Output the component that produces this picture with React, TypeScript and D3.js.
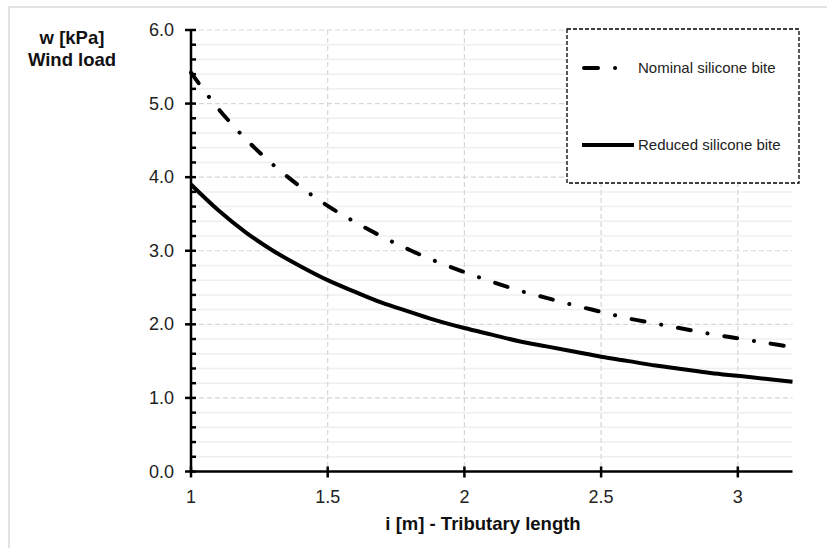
import React from 'react'
import * as d3 from 'd3'

// tributary length i [m]
const lengths = [1.0, 1.1, 1.2, 1.3, 1.4, 1.5, 1.6, 1.7, 1.8, 1.9, 2.0, 2.1, 2.2, 2.3, 2.4, 2.5, 2.6, 2.7, 2.8, 2.9, 3.0, 3.1, 3.2]
// wind load w [kPa]
const nominal = [5.42, 4.93, 4.52, 4.17, 3.87, 3.61, 3.39, 3.19, 3.01, 2.85, 2.71, 2.58, 2.46, 2.36, 2.26, 2.17, 2.08, 2.01, 1.94, 1.87, 1.81, 1.75, 1.69]
const reduced = [3.90, 3.55, 3.25, 3.00, 2.79, 2.60, 2.44, 2.29, 2.17, 2.05, 1.95, 1.86, 1.77, 1.70, 1.63, 1.56, 1.50, 1.44, 1.39, 1.34, 1.30, 1.26, 1.22]

const xTicks = [1, 1.5, 2, 2.5, 3]
const xTickLabels = ['1', '1.5', '2', '2.5', '3']
const yTicks = [0, 1, 2, 3, 4, 5, 6]
const seriesNames = ['Nominal silicone bite', 'Reduced silicone bite']

const W = 827
const H = 548
const left = 191
const right = 792.5
const top = 30
const bottom = 471.5
const font = 'Arial, "Liberation Sans", sans-serif'

export default function App() {
  const x = d3.scaleLinear().domain([1, 3.2]).range([left, right])
  const y = d3.scaleLinear().domain([0, 6]).range([bottom, top])

  const line = d3.line<number>()
    .x((d, i) => x(lengths[i]))
    .y(d => y(d))
    .curve(d3.curveCatmullRom)

  const minorY = d3.range(0, 6.0001, 0.2).filter(v => Math.abs(v - Math.round(v)) > 0.01)

  return (
    <svg width={W} height={H} style={{ position: 'absolute', left: 0, top: 0 }}>
      <rect x={0} y={0} width={W} height={H} fill="#fff" />
      <rect x={9} y={7} width={W + 20} height={H + 20} fill="none" stroke="#d9d9d9" strokeWidth={1.5} />

      {/* minor grid */}
      {minorY.map(v => (
        <line key={'m' + v} x1={left} x2={right} y1={y(v)} y2={y(v)} stroke="#efefef" strokeWidth={1.5} />
      ))}
      {/* major grid */}
      {yTicks.filter(v => v > 0).map(v => (
        <line key={'gy' + v} x1={left} x2={right} y1={y(v)} y2={y(v)} stroke="#d6d6d6" strokeWidth={1.2} strokeDasharray="5,3" />
      ))}
      {xTicks.filter(v => v > 1).map(v => (
        <line key={'gx' + v} x1={x(v)} x2={x(v)} y1={top} y2={bottom} stroke="#d6d6d6" strokeWidth={1.2} strokeDasharray="5,3" />
      ))}

      {/* series */}
      <path d={line(nominal) || ''} fill="none" stroke="#000" strokeWidth={4} strokeLinecap="round" strokeDasharray="13,17,0.1,17" />
      <path d={line(reduced) || ''} fill="none" stroke="#000" strokeWidth={4} />

      {/* axes */}
      <line x1={left} x2={left} y1={top} y2={bottom + 1} stroke="#000" strokeWidth={2.5} />
      <line x1={left - 1} x2={right} y1={bottom} y2={bottom} stroke="#000" strokeWidth={2.5} />
      {minorY.map(v => (
        <line key={'t' + v} x1={left} x2={left + 5} y1={y(v)} y2={y(v)} stroke="#000" strokeWidth={2.5} />
      ))}
      {yTicks.map(v => (
        <g key={'yt' + v}>
          <line x1={left - 6} x2={left + 5} y1={y(v)} y2={y(v)} stroke="#000" strokeWidth={2.5} />
          <text x={left - 17} y={y(v) + 6} textAnchor="end" fontFamily={font} fontSize={18} fill="#222">{v.toFixed(1)}</text>
        </g>
      ))}
      {xTicks.map((v, i) => (
        <g key={'xt' + v}>
          <line x1={x(v)} x2={x(v)} y1={bottom - 5} y2={bottom + 6} stroke="#000" strokeWidth={2.5} />
          <text x={x(v)} y={bottom + 31} textAnchor="middle" fontFamily={font} fontSize={18} fill="#222">{xTickLabels[i]}</text>
        </g>
      ))}

      {/* axis titles */}
      <text x={483} y={530} textAnchor="middle" fontFamily={font} fontSize={18.5} fontWeight="bold" fill="#111">i [m] - Tributary length</text>
      <text x={72} y={44} textAnchor="middle" fontFamily={font} fontSize={18.5} fontWeight="bold" fill="#111">w [kPa]</text>
      <text x={72} y={66} textAnchor="middle" fontFamily={font} fontSize={18.5} fontWeight="bold" fill="#111">Wind load</text>

      {/* legend */}
      <rect x={567} y={29} width={232} height={154} fill="#fff" stroke="#000" strokeWidth={1.3} strokeDasharray="4,2" />
      <line x1={584} x2={632} y1={68} y2={68} stroke="#000" strokeWidth={4} strokeLinecap="round" strokeDasharray="14,17,0.1,17" />
      <text x={638} y={73} fontFamily={font} fontSize={15} fill="#222">{seriesNames[0]}</text>
      <line x1={582} x2={634} y1={145} y2={145} stroke="#000" strokeWidth={4} />
      <text x={638} y={150} fontFamily={font} fontSize={15} fill="#222">{seriesNames[1]}</text>
    </svg>
  )
}
